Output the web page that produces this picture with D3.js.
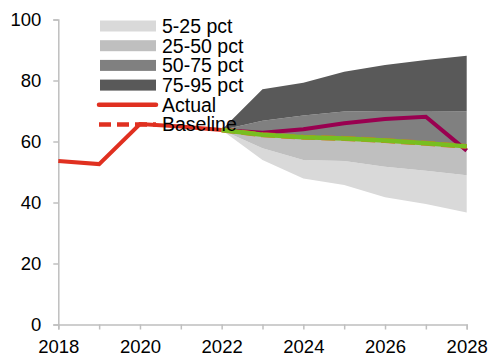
<!DOCTYPE html>
<html><head><meta charset="utf-8">
<script src="https://cdn.jsdelivr.net/npm/d3@7"></script>
<style>body{margin:0;background:#fff}svg{display:block}text{font-family:"Liberation Sans",Arial,sans-serif}</style>
</head><body><svg id="c" width="490" height="356"></svg>
<script>
const actualYears = [2018, 2019, 2020, 2021, 2022];
const actual = [53.6, 52.6, 65.7, 64.9, 63.8];
const fanYears = [2022, 2023, 2024, 2025, 2026, 2027, 2028];
const p5  = [63.8, 53.9, 47.9, 45.7, 41.7, 39.5, 36.7];
const p25 = [63.8, 57.8, 53.9, 53.6, 51.7, 50.4, 48.9];
const p50 = [63.8, 61.8, 61.0, 60.6, 59.9, 59.0, 58.1];
const p75 = [63.8, 66.8, 68.5, 69.8, 70.0, 70.0, 69.9];
const p95 = [63.8, 77.1, 79.3, 82.9, 85.1, 86.7, 88.1];
const baseline = [63.8, 62.2, 61.4, 61.0, 60.3, 59.4, 58.4];
const scenario = [63.8, 62.9, 64.0, 66.0, 67.4, 68.1, 57.0];
const yTicks = [0, 20, 40, 60, 80, 100];
const xTickYears = [2018, 2019, 2020, 2021, 2022, 2023, 2024, 2025, 2026, 2027, 2028];
const xLabelYears = [2018, 2020, 2022, 2024, 2026, 2028];
const bandNames = ["5-25 pct", "25-50 pct", "50-75 pct", "75-95 pct"];
const bandColors = ["#d9d9d9", "#bfbfbf", "#808080", "#595959"];

const svg = d3.select("#c");
const x = d3.scaleLinear().domain([2018, 2028]).range([58.3, 466.7]);
const y = d3.scaleLinear().domain([0, 100]).range([324.5, 19.5]);

const bands = [[p5, p25], [p25, p50], [p50, p75], [p75, p95]];
const area = d3.area().x(d => x(d.yr)).y0(d => y(d.lo)).y1(d => y(d.hi));
bands.forEach((b, i) => {
  const data = fanYears.map((yr, j) => ({yr, lo: b[0][j], hi: b[1][j]}));
  svg.append("path").attr("d", area(data)).attr("fill", bandColors[i]);
});

const axisColor = "#bfbfbf";
const ya = svg.append("g").attr("transform", `translate(${x(2018)},0)`)
  .call(d3.axisLeft(y).tickValues(yTicks).tickSize(5).tickPadding(12).tickFormat(d3.format("d")));
const xa = svg.append("g").attr("transform", `translate(0,${y(0)})`)
  .call(d3.axisBottom(x).tickValues(xTickYears).tickSize(5).tickPadding(10.5)
    .tickFormat(d => xLabelYears.includes(d) ? String(d) : ""));
[ya, xa].forEach(g => {
  g.selectAll("path.domain").attr("stroke", axisColor).attr("stroke-width", 1.5);
  g.selectAll(".tick line").attr("stroke", axisColor).attr("stroke-width", 1.5);
  g.selectAll(".tick text").attr("fill", "#000").style("font-size", "18.5px")
    .style("font-family", '"Liberation Sans",Arial,sans-serif');
});
ya.selectAll(".tick text").attr("dy", "0.35em");

const line = d3.line().x(d => x(d[0])).y(d => y(d[1]));
svg.append("path").attr("d", line(actualYears.map((yr, i) => [yr, actual[i]])))
  .attr("fill", "none").attr("stroke", "#e03020").attr("stroke-width", 4).attr("stroke-linejoin", "miter");
svg.append("path").attr("d", line(fanYears.map((yr, i) => [yr, scenario[i]])))
  .attr("fill", "none").attr("stroke", "#990050").attr("stroke-width", 4);
svg.append("path").attr("d", line(fanYears.map((yr, i) => [yr, baseline[i]])))
  .attr("fill", "none").attr("stroke", "#e07020").attr("stroke-width", 5).attr("stroke-dasharray", "14,6");
svg.append("path").attr("d", line(fanYears.map((yr, i) => [yr, baseline[i]])))
  .attr("fill", "none").attr("stroke", "#78be20").attr("stroke-width", 4.5);

// legend
const lg = svg.append("g");
const rowY = i => 26 + i * 19.7;
const fs = "19.5px";
bandNames.forEach((n, i) => {
  lg.append("rect").attr("x", 100).attr("y", rowY(i) - 5.5).attr("width", 56).attr("height", 11).attr("fill", bandColors[i]);
  lg.append("text").attr("x", 162).attr("y", rowY(i)).attr("dy", "0.35em").style("font-size", fs).text(n);
});
lg.append("line").attr("x1", 99).attr("x2", 156).attr("y1", rowY(4)).attr("y2", rowY(4))
  .attr("stroke", "#e03020").attr("stroke-width", 4.5).attr("stroke-linecap", "round");
lg.append("text").attr("x", 162).attr("y", rowY(4)).attr("dy", "0.35em").style("font-size", fs).text("Actual");
lg.append("line").attr("x1", 99).attr("x2", 156).attr("y1", rowY(5)).attr("y2", rowY(5))
  .attr("stroke", "#e03020").attr("stroke-width", 4.5).attr("stroke-dasharray", "12,6");
lg.append("text").attr("x", 162).attr("y", rowY(5)).attr("dy", "0.35em").style("font-size", fs).text("Baseline");
</script></body></html>
